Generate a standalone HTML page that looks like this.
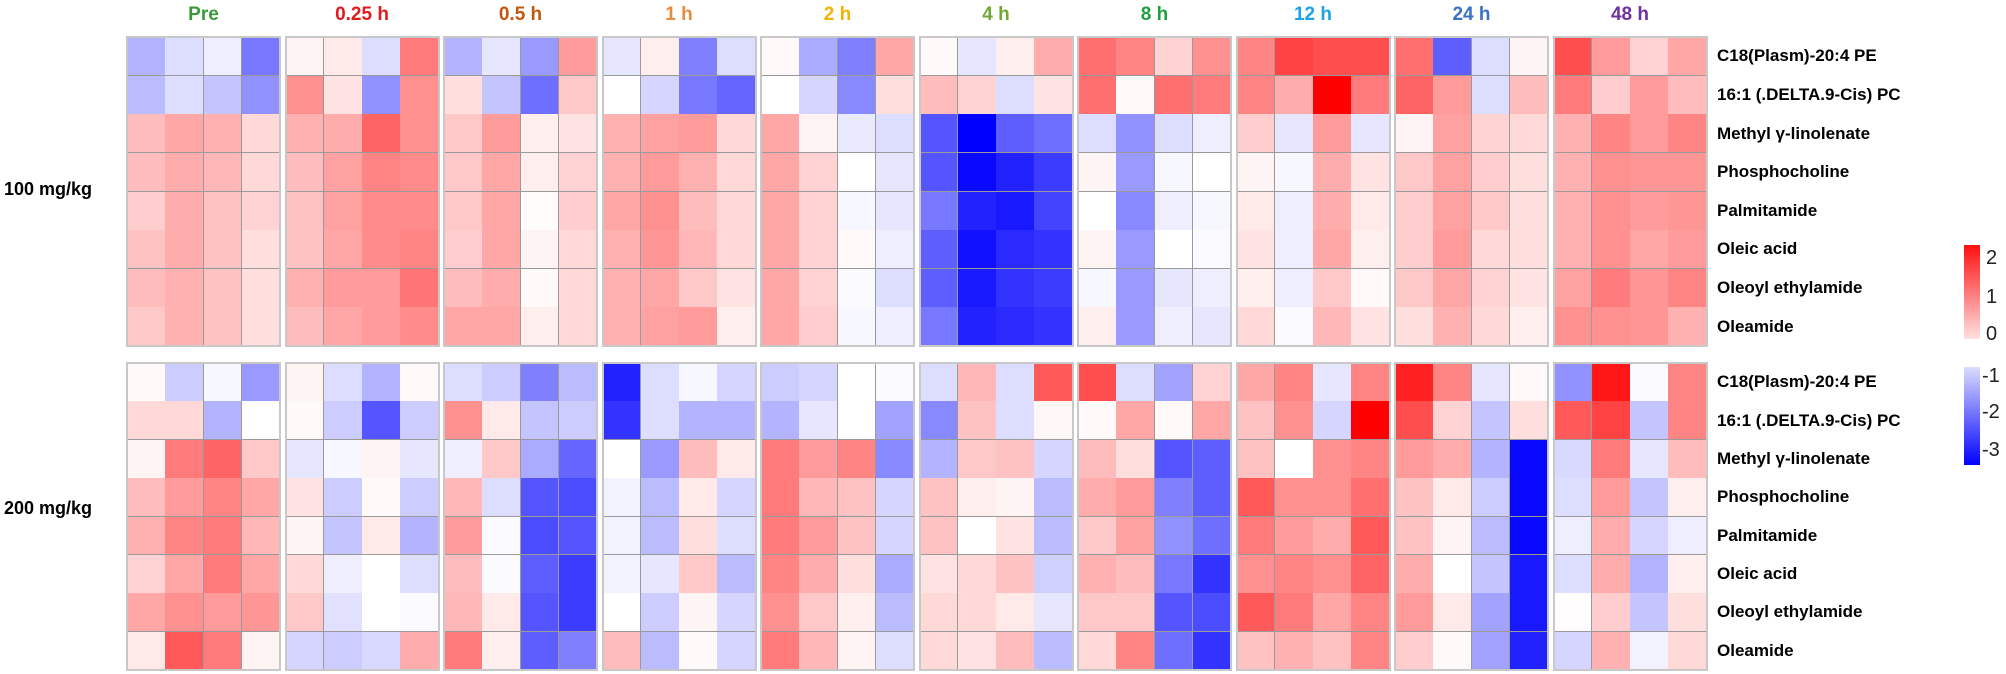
<!DOCTYPE html>
<html><head><meta charset="utf-8">
<style>
body{margin:0;background:#fff;width:2006px;height:674px;overflow:hidden;position:relative;font-family:"Liberation Sans",Arial,sans-serif;}
.t{position:absolute;white-space:nowrap;}
.h{font-weight:bold;font-size:19px;top:4px;text-align:center;width:153px;}
.r{font-weight:bold;font-size:17px;left:1717px;line-height:20px;}
.d{font-weight:bold;font-size:18px;left:4px;}
.c{position:absolute;box-sizing:border-box;border-right:1px solid #9a9a9a;border-bottom:1px solid #9a9a9a;}
.g{position:absolute;box-sizing:border-box;border:2px solid #c8c8c8;}
.k{font-size:20px;left:1986px;line-height:20px;color:#222;}
</style></head><body>
<div id="root"></div>
<div class="t d" style="top:179px">100 mg/kg</div>
<div class="t d" style="top:498px">200 mg/kg</div>
<div style="position:absolute;left:1964px;top:245px;width:16px;height:94px;background:linear-gradient(#ff1010,#ffe0e0)"></div>
<div style="position:absolute;left:1964px;top:367px;width:16px;height:98px;background:linear-gradient(#dcdcff,#0000ff)"></div>
<div class="t k" style="top:248px">2</div>
<div class="t k" style="top:287px">1</div>
<div class="t k" style="top:324px">0</div>
<div class="t k" style="top:366px;left:1982px">-1</div>
<div class="t k" style="top:402px;left:1982px">-2</div>
<div class="t k" style="top:440px;left:1982px">-3</div>
<script>
var names=["C18(Plasm)-20:4 PE","16:1 (.DELTA.9-Cis) PC","Methyl γ-linolenate","Phosphocholine","Palmitamide","Oleic acid","Oleoyl ethylamide","Oleamide"];
var heads=[["Pre","#3a9a3a"],["0.25 h","#e01c1c"],["0.5 h","#c0580e"],["1 h","#ec8a3c"],["2 h","#f2b400"],["4 h","#72a832"],["8 h","#1fa040"],["12 h","#1ea2e6"],["24 h","#3a72c4"],["48 h","#7030a0"]];
var T=[
[[-0.9,-0.4,-0.2,-1.6],[-0.8,-0.4,-0.7,-1.3],[0.6,0.8,0.7,0.35],[0.6,0.75,0.65,0.35],[0.45,0.75,0.55,0.4],[0.55,0.75,0.55,0.3],[0.6,0.7,0.55,0.3],[0.5,0.7,0.55,0.3]],
[[0.1,0.2,-0.4,1.2],[1.0,0.25,-1.3,1.0],[0.7,0.75,1.4,1.0],[0.6,0.85,1.1,1.05],[0.55,0.85,1.05,1.05],[0.55,0.8,1.05,1.1],[0.7,0.9,0.9,1.25],[0.6,0.8,0.9,1.05]],
[[-0.9,-0.3,-1.2,0.9],[0.3,-0.7,-1.7,0.5],[0.5,0.9,0.15,0.25],[0.5,0.8,0.15,0.4],[0.5,0.8,0.03,0.45],[0.45,0.8,0.1,0.35],[0.6,0.75,0.05,0.35],[0.8,0.8,0.15,0.35]],
[[-0.3,0.15,-1.5,-0.4],[0,-0.5,-1.6,-1.8],[0.7,0.85,0.9,0.35],[0.7,0.9,0.7,0.35],[0.8,1.0,0.6,0.35],[0.7,0.95,0.65,0.35],[0.7,0.8,0.5,0.25],[0.7,0.85,0.9,0.15]],
[[0.05,-1.0,-1.5,0.8],[0,-0.5,-1.4,0.3],[0.8,0.1,-0.25,-0.4],[0.8,0.4,0,-0.3],[0.8,0.4,-0.1,-0.3],[0.8,0.4,0.05,-0.2],[0.8,0.4,-0.05,-0.4],[0.8,0.45,-0.1,-0.2]],
[[0.05,-0.3,0.15,0.75],[0.6,0.4,-0.4,0.25],[-2.0,-3.0,-1.9,-1.7],[-2.0,-2.9,-2.6,-2.3],[-1.6,-2.6,-2.7,-2.2],[-1.9,-2.8,-2.5,-2.4],[-1.9,-2.7,-2.4,-2.3],[-1.6,-2.6,-2.5,-2.4]],
[[1.3,1.1,0.4,1.0],[1.3,0.05,1.3,1.2],[-0.4,-1.3,-0.4,-0.2],[0.1,-1.2,-0.1,0],[0,-1.4,-0.2,-0.1],[0.1,-1.2,0,-0.05],[-0.1,-1.2,-0.3,-0.2],[0.15,-1.2,-0.2,-0.3]],
[[1.1,1.7,1.6,1.6],[1.1,0.75,2.3,1.2],[0.45,-0.3,0.9,-0.3],[0.1,-0.1,0.75,0.25],[0.2,-0.2,0.75,0.2],[0.25,-0.2,0.8,0.15],[0.15,-0.2,0.5,0.05],[0.35,-0.05,0.65,0.25]],
[[1.3,-1.9,-0.4,0.1],[1.4,0.9,-0.4,0.6],[0.1,0.85,0.4,0.35],[0.5,0.85,0.45,0.3],[0.45,0.85,0.5,0.3],[0.45,0.9,0.35,0.3],[0.5,0.8,0.4,0.25],[0.3,0.7,0.35,0.15]],
[[1.6,0.9,0.4,0.8],[1.2,0.45,0.9,0.6],[0.7,1.1,0.9,1.1],[0.7,1.0,0.95,0.95],[0.7,1.0,0.9,0.95],[0.7,1.0,0.8,0.9],[0.85,1.2,0.95,1.1],[1.0,1.0,0.95,0.7]]];
var B=[
[[0.05,-0.6,-0.1,-1.2],[0.35,0.35,-0.9,0],[0.1,1.2,1.4,0.5],[0.6,0.9,1.1,0.8],[0.7,1.1,1.2,0.65],[0.4,0.8,1.2,0.8],[0.8,1.0,0.9,0.95],[0.2,1.5,1.2,0.1]],
[[0.1,-0.4,-0.9,0.05],[0.05,-0.6,-2.0,-0.6],[-0.3,-0.1,0.1,-0.3],[0.25,-0.6,0.05,-0.6],[0.1,-0.7,0.2,-0.9],[0.35,-0.2,0,-0.4],[0.5,-0.35,0,-0.05],[-0.5,-0.6,-0.45,0.75]],
[[-0.4,-0.6,-1.5,-0.8],[1.0,0.2,-0.7,-0.6],[-0.2,0.5,-1.0,-1.8],[0.65,-0.4,-2.0,-2.1],[0.9,-0.05,-2.1,-2.0],[0.6,-0.05,-1.9,-2.3],[0.65,0.2,-2.0,-2.3],[1.2,0.15,-1.9,-1.5]],
[[-2.6,-0.4,-0.1,-0.5],[-2.4,-0.4,-0.9,-0.9],[0,-1.2,0.6,0.2],[-0.15,-0.8,0.2,-0.5],[-0.15,-0.8,0.3,-0.4],[-0.15,-0.3,0.5,-0.8],[0,-0.6,0.1,-0.5],[0.6,-0.8,0.05,-0.5]],
[[-0.6,-0.5,0,-0.05],[-0.9,-0.3,0,-1.1],[1.2,0.9,1.1,-1.4],[1.2,0.65,0.55,-0.5],[1.2,0.9,0.55,-0.5],[1.1,0.75,0.3,-1.0],[1.0,0.5,0.15,-0.8],[1.2,0.65,0.1,-0.4]],
[[-0.4,0.65,-0.4,1.5],[-1.4,0.55,-0.4,0.08],[-0.9,0.5,0.55,-0.5],[0.55,0.15,0.1,-0.8],[0.55,0,0.25,-0.8],[0.25,0.35,0.55,-0.55],[0.35,0.35,0.2,-0.3],[0.35,0.25,0.6,-0.8]],
[[1.6,-0.4,-1.1,0.4],[0.05,0.8,0.05,0.8],[0.6,0.3,-2.0,-1.9],[0.75,0.9,-1.5,-1.9],[0.5,0.85,-1.3,-1.7],[0.7,0.6,-1.6,-2.4],[0.5,0.5,-2.0,-2.1],[0.35,1.1,-1.7,-2.4]],
[[0.8,1.1,-0.3,1.1],[0.55,1.0,-0.5,2.3],[0.55,0,1.0,1.1],[1.5,1.0,1.0,1.3],[1.2,0.9,0.75,1.5],[1.0,1.1,1.0,1.4],[1.5,1.2,0.8,1.1],[0.55,0.7,0.55,1.1]],
[[2.0,1.1,-0.3,0.05],[1.6,0.4,-0.7,0.3],[0.9,0.75,-0.9,-2.9],[0.55,0.2,-0.6,-2.9],[0.55,0.1,-0.8,-2.9],[0.75,0,-0.7,-2.7],[0.9,0.2,-1.1,-2.7],[0.45,0.05,-1.1,-2.6]],
[[-1.3,2.1,-0.05,1.1],[1.5,1.7,-0.7,1.1],[-0.45,1.2,-0.3,0.6],[-0.4,0.9,-0.7,0.15],[-0.2,0.75,-0.5,-0.2],[-0.4,0.75,-0.9,0.15],[0.02,0.45,-0.7,0.3],[-0.5,0.7,-0.15,0.35]]];
function col(v){var t,c;if(v>=0){t=Math.min(v/2.3,1);c=Math.round(255*(1-t));return "rgb(255,"+c+","+c+")";}t=Math.min(-v/3,1);c=Math.round(255*(1-t));return "rgb("+c+","+c+",255)";}
var h="";
function block(D,top,bot){var rh=(bot-top)/8;
for(var g=0;g<10;g++){var x0=127+158.5*g,cw=153/4;
for(var r=0;r<8;r++)for(var c=0;c<4;c++){
h+='<div class="c" style="left:'+(x0+c*cw).toFixed(1)+'px;top:'+(top+r*rh).toFixed(1)+'px;width:'+(cw+0.5).toFixed(1)+'px;height:'+(rh+0.5).toFixed(1)+'px;background:'+col(D[g][r][c])+'"></div>';}
h+='<div class="g" style="left:'+(x0-1).toFixed(1)+'px;top:'+(top-1)+'px;width:155px;height:'+(bot-top+2)+'px"></div>';}
for(var r=0;r<8;r++)h+='<div class="t r" style="top:'+(top+rh*(r+0.5)-10).toFixed(1)+'px">'+names[r]+'</div>';}
block(T,37,346);block(B,363,670);
for(var g=0;g<10;g++)h+='<div class="t h" style="left:'+(127+158.5*g)+'px;color:'+heads[g][1]+'">'+heads[g][0]+'</div>';
document.getElementById("root").innerHTML=h;
</script>
</body></html>
